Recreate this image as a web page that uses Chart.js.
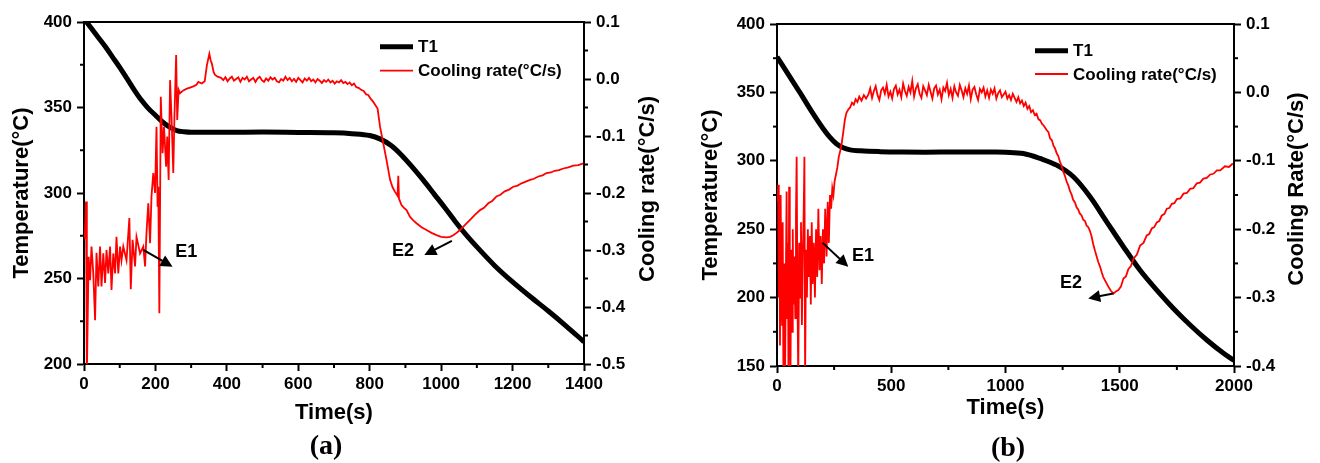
<!DOCTYPE html>
<html><head><meta charset="utf-8">
<script src="https://cdn.jsdelivr.net/npm/chart.js@4.4.1/dist/chart.umd.min.js"></script>
<style>
html,body{margin:0;padding:0;background:#fff;width:1320px;height:463px;overflow:hidden}
.wrap{position:absolute;top:0;width:660px;height:463px}
.cap{position:absolute;font:bold 28px "Liberation Serif","DejaVu Serif",serif;color:#000;transform:translate(-50%,-50%);white-space:nowrap}
</style></head><body>
<div class="wrap" style="left:0"><canvas id="ca" width="660" height="463"></canvas></div>
<div class="wrap" style="left:660px"><canvas id="cb" width="660" height="463"></canvas></div>
<div class="cap" style="left:326px;top:445px">(a)</div>
<div class="cap" style="left:1008px;top:447px">(b)</div>
<script>
// ---------- Data: panel (a) ----------
const timeA_T1 = [0,20,40,60,80,100,120,140,160,180,200,220,240,260,280,300,400,500,600,700,750,800,830,860,890,920,950,980,1010,1040,1070,1100,1150,1200,1250,1300,1350,1400];
const tempA_T1 = [402,396.5,391,385.5,379.5,373.5,367,360.5,354.5,349.5,345.5,341.5,338.5,336.5,335.8,335.5,335.5,335.6,335.4,335.2,334.7,333.6,331.5,327.8,322,315,307.5,299.5,291.5,283.2,275.5,268.5,257.5,248,239.3,231,222.2,213];
const timeA_CR = [2,5.6,8,13,17,21,26,31,35,40,45,49,54,59,63,68,73,77,82,87,91,96,101,105,110,119,127,131,136,143,147,157,166,171,175,180,185,189,194,199,203,206,208,211,215,220,224,230,233,237,241,245,250,253,258,261,265,269,278,288,297,306,315,320,330,338,344,351,355,358,363,367,374,
384,390,396,402,408,414,420,426,432,438,444,450,456,462,468,474,480,486,492,498,504,510,516,522,528,534,540,546,552,558,564,570,576,582,588,594,600,606,612,618,624,630,636,642,648,654,660,666,672,678,684,690,696,702,708,714,720,726,732,738,744,
750,756,762,770,776,783,790,796,803,810,816,822,829,838,847,857,864,871,878,880,882,889,896,903,913,922,931,945,959,973,987,1000,1015,1025,1034,1043,1053,1067,1081,1095,1109,1120,1132,1143,1155,1166,1178,1190,1202,1214,1225,1237,1249,1260,1272,1284,1295,1307,1318,1330,1342,1356,1370,1384,1398];
const rateA_CR = [-0.28,-0.215,-0.52,-0.312,-0.353,-0.294,-0.341,-0.423,-0.305,-0.364,-0.294,-0.364,-0.306,-0.358,-0.300,-0.341,-0.294,-0.370,-0.306,-0.341,-0.277,-0.341,-0.294,-0.318,-0.294,-0.318,-0.244,-0.369,-0.282,-0.329,-0.277,-0.306,-0.294,-0.329,-0.270,-0.218,-0.288,-0.206,-0.165,-0.200,-0.084,-0.224,-0.189,-0.411,-0.031,-0.130,-0.084,-0.154,-0.101,-0.177,-0.002,-0.066,-0.165,-0.072,0.042,-0.072,-0.019,-0.025,-0.020,-0.017,-0.015,-0.013,-0.010,-0.005,-0.008,-0.004,0.024,0.044,0.032,0.027,0.012,0.007,0.004,
0.002,-0.002,0.003,-0.004,0.001,0.004,-0.003,0.000,0.003,-0.005,0.002,-0.001,0.004,-0.004,-0.001,0.002,-0.005,0.001,0.004,-0.002,-0.005,0.001,-0.003,0.003,-0.001,0.002,-0.004,-0.006,0.000,-0.003,0.004,-0.002,0.002,-0.004,0.000,-0.005,0.002,-0.002,-0.006,0.001,-0.003,0.002,-0.004,-0.001,-0.006,0.000,-0.003,-0.007,-0.002,-0.005,-0.001,-0.006,-0.003,-0.008,-0.004,-0.006,-0.002,-0.007,-0.005,-0.009,-0.006,
-0.011,-0.008,-0.014,-0.016,-0.019,-0.021,-0.027,-0.028,-0.035,-0.040,-0.046,-0.052,-0.084,-0.113,-0.142,-0.177,-0.190,-0.198,-0.205,-0.170,-0.210,-0.221,-0.226,-0.230,-0.242,-0.248,-0.253,-0.260,-0.265,-0.270,-0.274,-0.277,-0.278,-0.277,-0.274,-0.270,-0.265,-0.256,-0.247,-0.238,-0.230,-0.226,-0.218,-0.214,-0.206,-0.203,-0.197,-0.194,-0.189,-0.187,-0.183,-0.180,-0.177,-0.175,-0.171,-0.169,-0.165,-0.164,-0.161,-0.160,-0.157,-0.155,-0.152,-0.151,-0.148];

// ---------- Data: panel (b) ----------
const timeB_T1 = [0,50,100,150,200,230,260,290,320,365,450,550,650,750,850,950,1000,1078,1151,1224,1297,1370,1443,1516,1589,1662,1735,1808,1881,1954,2000];
const tempB_T1 = [376,363,350,336.5,324,317.5,312.5,309.5,308,307.3,306.7,306.4,306.3,306.4,306.5,306.4,306.2,305.3,301.7,296.8,288.3,273.7,255.4,237.2,220,205.5,192.1,180,169,159.3,154];
const timeB_CR = [3,5,8,11,13,16,19,22,25,28,31,35,38,42,45,48,50,53,56,59,62,66,69,72,76,80,83,86,89,93,97,101,105,109,113,117,120,123,127,131,135,139,144,148,152,156,161,166,171,176,181,186,191,196,201,206,211,217,222,227,232,237,242,247,252,258,264,270,277,283,290,297,304,312,320,328,336,344,352,360,370,380,390,
400,408,416,424,432,440,448,456,464,472,480,488,496,504,512,520,528,536,544,552,560,568,576,584,592,600,608,616,624,632,640,648,656,664,672,680,688,696,704,712,720,728,736,744,752,760,768,776,784,792,800,808,816,824,832,840,848,856,864,872,880,888,896,904,912,920,928,936,944,952,960,968,976,984,992,1000,1008,1016,1024,1032,1040,1048,1056,1064,1072,1080,1088,1096,1104,1112,1120,1128,1136,1144,1152,
1160,1166,1172,1180,1188,1195,1203,1210,1217,1224,1231,1238,1246,1253,1260,1268,1275,1282,1289,1296,1304,1311,1318,1325,1333,1340,1348,1355,1362,1370,1377,1384,1392,1399,1406,1414,1421,1428,1439,1450,1461,1472,1483,1494,1505,1516,1527,1538,1549,1560,1575,1589,1604,1618,1629,1640,1651,1662,1673,1684,1695,1706,1717,1728,1739,1750,1765,1779,1794,1808,1822,1837,1851,1866,1881,1896,1910,1925,1940,1960,1978,1995];
const rateB_CR = [-0.16,-0.135,-0.30,-0.20,-0.37,-0.15,-0.28,-0.34,-0.19,-0.42,-0.25,-0.42,-0.30,-0.145,-0.33,-0.22,-0.42,-0.138,-0.29,-0.42,-0.23,-0.35,-0.20,-0.31,-0.24,-0.33,-0.18,-0.094,-0.27,-0.42,-0.22,-0.30,-0.19,-0.34,-0.24,-0.17,-0.094,-0.42,-0.23,-0.30,-0.20,-0.27,-0.21,-0.31,-0.19,-0.28,-0.22,-0.30,-0.20,-0.27,-0.17,-0.26,-0.21,-0.28,-0.20,-0.25,-0.17,-0.24,-0.16,-0.22,-0.15,-0.17,-0.14,-0.15,-0.13,-0.12,-0.11,-0.095,-0.085,-0.075,-0.058,-0.040,-0.030,-0.025,-0.022,-0.015,-0.018,-0.010,-0.014,-0.006,-0.012,-0.004,-0.009,
-0.003,0.006,-0.008,0.002,0.009,-0.004,-0.011,0.003,0.007,-0.002,0.011,-0.006,0.001,-0.009,0.005,0.010,-0.003,0.004,-0.007,0.013,0.002,-0.005,0.008,0.000,0.017,-0.006,0.006,0.012,-0.002,-0.008,0.009,0.003,-0.004,0.011,0.001,-0.009,0.006,0.010,-0.003,0.004,-0.010,0.007,0.002,0.014,-0.004,0.005,-0.008,0.009,0.000,-0.005,0.011,0.003,-0.007,0.006,-0.002,0.010,-0.010,0.004,0.008,-0.003,-0.011,0.005,0.000,0.007,-0.006,0.003,-0.008,0.004,-0.002,0.006,-0.009,-0.001,0.003,-0.007,-0.003,0.001,-0.009,-0.004,-0.011,-0.002,-0.008,-0.014,-0.007,-0.016,-0.012,-0.020,-0.015,-0.024,-0.020,-0.029,-0.026,-0.033,-0.031,-0.039,-0.041,
-0.046,-0.048,-0.051,-0.055,-0.058,-0.067,-0.070,-0.078,-0.082,-0.089,-0.093,-0.101,-0.108,-0.116,-0.122,-0.131,-0.136,-0.144,-0.149,-0.157,-0.161,-0.168,-0.171,-0.177,-0.180,-0.186,-0.188,-0.195,-0.197,-0.203,-0.211,-0.222,-0.232,-0.240,-0.248,-0.255,-0.263,-0.270,-0.277,-0.284,-0.290,-0.294,-0.291,-0.289,-0.284,-0.272,-0.269,-0.258,-0.254,-0.243,-0.237,-0.224,-0.220,-0.209,-0.207,-0.199,-0.197,-0.190,-0.188,-0.180,-0.178,-0.170,-0.169,-0.163,-0.162,-0.156,-0.155,-0.148,-0.147,-0.141,-0.140,-0.133,-0.132,-0.126,-0.125,-0.120,-0.119,-0.114,-0.114,-0.108,-0.109,-0.104];

// ---------- Annotations (data coordinates: time, temperature) ----------
const annotA = [
  {label:'E1', from:[166,266.7], to:[248,256.9], text:[286,265.5]},
  {label:'E2', from:[1030,272], to:[953,263.7], text:[893,266]}
];
const annotB = [
  {label:'E1', from:[200,240], to:[312,222.5], text:[376,230.3]},
  {label:'E2', from:[1472,203], to:[1362,199.4], text:[1287,210.6]}
];

const FONT = '"Liberation Sans", Arial, Helvetica, sans-serif';
Chart.defaults.font.family = FONT;
Chart.defaults.color = '#000';

function drawArrow(ctx, x1, y1, x2, y2) {
  const a = Math.atan2(y2 - y1, x2 - x1), L = 12, W = 6;
  ctx.lineWidth = 2;
  ctx.beginPath(); ctx.moveTo(x1, y1);
  ctx.lineTo(x2 - L * 0.8 * Math.cos(a), y2 - L * 0.8 * Math.sin(a)); ctx.stroke();
  ctx.beginPath(); ctx.moveTo(x2, y2);
  ctx.lineTo(x2 - L * Math.cos(a) + W * Math.sin(a), y2 - L * Math.sin(a) - W * Math.cos(a));
  ctx.lineTo(x2 - L * Math.cos(a) - W * Math.sin(a), y2 - L * Math.sin(a) + W * Math.cos(a));
  ctx.closePath(); ctx.fill();
}

const deco = {
  id: 'deco',
  afterDraw(chart, args, o) {
    const {ctx, chartArea: ca, scales} = chart;
    const sx = scales.x, sy = scales.y, sy1 = scales.y1;
    ctx.save();
    ctx.strokeStyle = '#000'; ctx.fillStyle = '#000';
    ctx.lineWidth = 2;
    ctx.beginPath(); ctx.moveTo(ca.left - 1, ca.top); ctx.lineTo(ca.right + 1, ca.top); ctx.stroke();
    const minor = (scale, step, fn) => {
      const n = Math.round((scale.max - scale.min) / step);
      for (let k = 1; k < n; k += 2) fn(scale.getPixelForValue(scale.min + k * step));
    };
    minor(sx, o.xMinor, p => { ctx.beginPath(); ctx.moveTo(p, ca.bottom); ctx.lineTo(p, ca.bottom + 4); ctx.stroke(); });
    minor(sy, o.yMinor, p => { ctx.beginPath(); ctx.moveTo(ca.left, p); ctx.lineTo(ca.left - 4, p); ctx.stroke(); });
    minor(sy1, o.y1Minor, p => { ctx.beginPath(); ctx.moveTo(ca.right, p); ctx.lineTo(ca.right + 4, p); ctx.stroke(); });
    ctx.font = 'bold 18px ' + FONT;
    ctx.textAlign = 'center'; ctx.textBaseline = 'middle';
    o.annot.forEach(a => {
      drawArrow(ctx, sx.getPixelForValue(a.from[0]), sy.getPixelForValue(a.from[1]),
                     sx.getPixelForValue(a.to[0]), sy.getPixelForValue(a.to[1]));
      ctx.fillText(a.label, sx.getPixelForValue(a.text[0]), sy.getPixelForValue(a.text[1]));
    });
    ctx.save();
    ctx.translate(o.rTitleX, o.rTitleY);
    ctx.rotate(-Math.PI / 2);
    ctx.font = 'bold 22px ' + FONT;
    ctx.fillText(o.rTitle, 0, 0);
    ctx.restore();
    ctx.textAlign = 'left';
    ctx.font = 'bold 17px ' + FONT;
    chart.data.datasets.forEach((ds, i) => {
      const ly = o.legY[i];
      ctx.strokeStyle = ds.borderColor; ctx.lineWidth = ds.borderWidth;
      ctx.beginPath(); ctx.moveTo(o.legX, ly); ctx.lineTo(o.legX + 33, ly); ctx.stroke();
      ctx.fillStyle = '#000';
      ctx.fillText(ds.label, o.legX + 38, ly + 1);
    });
    ctx.restore();
  }
};

function makeChart(id, c) {
  const tickFont = {size: 17, weight: 'bold', family: FONT};
  const gridOpt = {drawOnChartArea: false, tickLength: 7, tickWidth: 2, tickColor: '#000'};
  const border = {display: true, width: 2, color: '#000'};
  return new Chart(document.getElementById(id), {
    type: 'line',
    data: {datasets: [
      {label: 'T1', data: c.t1x.map((x, i) => ({x, y: c.t1y[i]})), yAxisID: 'y',
       borderColor: '#000', borderWidth: 5, pointRadius: 0, cubicInterpolationMode: 'monotone', order: 1},
      {label: 'Cooling rate(°C/s)', data: c.crx.map((x, i) => ({x, y: c.cry[i]})), yAxisID: 'y1',
       borderColor: '#ff0000', borderWidth: 1.8, pointRadius: 0, tension: 0, order: 0}
    ]},
    options: {
      responsive: false, animation: false, devicePixelRatio: 1,
      layout: {padding: {top: c.padTop, left: 0, right: 0, bottom: 0}},
      plugins: {legend: {display: false}, tooltip: {enabled: false}, deco: c.deco},
      scales: {
        x: {type: 'linear', min: 0, max: c.xMax,
            ticks: {stepSize: c.xStep, font: tickFont, color: '#000', padding: 3, maxRotation: 0, autoSkip: false, callback: v => String(v)},
            grid: gridOpt, border,
            title: {display: true, text: 'Time(s)', color: '#000', font: {size: 22, weight: 'bold'}, padding: {top: 0, bottom: c.xTitlePad}},
            afterFit: s => { s.height = c.xH; }},
        y: {position: 'left', min: c.yMin, max: c.yMax,
            ticks: {stepSize: 50, font: tickFont, color: '#000', padding: 5, callback: v => String(v)},
            grid: gridOpt, border,
            title: {display: true, text: 'Temperature(°C)', color: '#000', font: {size: 22, weight: 'bold'}, padding: {top: c.yTitlePad, bottom: 0}},
            afterFit: s => { s.width = c.yW; }},
        y1: {position: 'right', min: c.y1Min, max: c.y1Max,
            ticks: {stepSize: 0.1, font: tickFont, color: '#000', padding: 5,
                    callback: v => (Math.abs(v) < 1e-9 ? 0 : v).toFixed(1)},
            grid: gridOpt, border,
            afterFit: s => { s.width = c.y1W; }}
      }
    },
    plugins: [deco]
  });
}

makeChart('ca', {
  t1x: timeA_T1, t1y: tempA_T1, crx: timeA_CR, cry: rateA_CR,
  xMax: 1400, xStep: 200, yMin: 200, yMax: 400, y1Min: -0.5, y1Max: 0.1,
  padTop: 22, xH: 99, yW: 84, y1W: 76, xTitlePad: 37, yTitlePad: 9,
  deco: {xMinor: 100, yMinor: 25, y1Minor: 0.05, annot: annotA,
         rTitle: 'Cooling rate(°C/s)', rTitleX: 648, rTitleY: 189, legX: 380, legY: [46.7, 70.7]}
});
makeChart('cb', {
  t1x: timeB_T1, t1y: tempB_T1, crx: timeB_CR, cry: rateB_CR,
  xMax: 2000, xStep: 500, yMin: 150, yMax: 400, y1Min: -0.4, y1Max: 0.1,
  padTop: 24, xH: 97, yW: 117, y1W: 86, xTitlePad: 42, yTitlePad: 38,
  deco: {xMinor: 250, yMinor: 25, y1Minor: 0.05, annot: annotB,
         rTitle: 'Cooling Rate(°C/s)', rTitleX: 637, rTitleY: 189, legX: 375, legY: [50.7, 74]}
});
</script>
</body></html>
